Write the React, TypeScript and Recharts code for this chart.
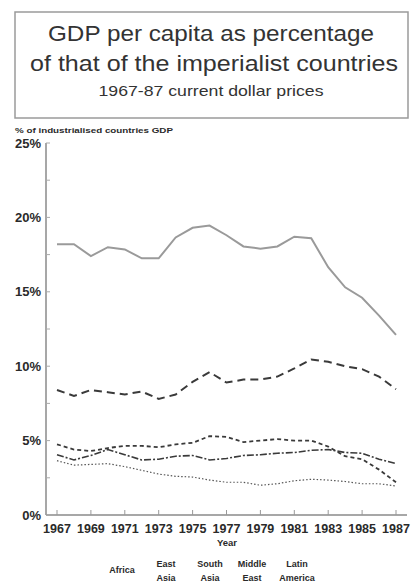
import React from "react";
import { LineChart, Line, XAxis, YAxis } from "recharts";

const years = [1967, 1968, 1969, 1970, 1971, 1972, 1973, 1974, 1975, 1976, 1977, 1978, 1979, 1980, 1981, 1982, 1983, 1984, 1985, 1986, 1987];
const middleEast = [18.2, 18.2, 17.4, 18.0, 17.85, 17.25, 17.25, 18.65, 19.3, 19.45, 18.8, 18.05, 17.9, 18.05, 18.7, 18.6, 16.65, 15.3, 14.6, 13.4, 12.1];
const latinAmerica = [8.4, 8.0, 8.4, 8.25, 8.1, 8.3, 7.8, 8.1, 8.95, 9.6, 8.9, 9.1, 9.1, 9.3, 9.85, 10.45, 10.3, 10.0, 9.8, 9.3, 8.45];
const africa = [4.75, 4.4, 4.3, 4.5, 4.65, 4.65, 4.55, 4.75, 4.85, 5.3, 5.25, 4.9, 5.0, 5.1, 5.0, 5.0, 4.6, 3.95, 3.75, 3.05, 2.2];
const eastAsia = [4.05, 3.7, 4.0, 4.4, 4.05, 3.7, 3.75, 3.95, 4.0, 3.7, 3.8, 4.0, 4.05, 4.15, 4.2, 4.35, 4.4, 4.2, 4.15, 3.75, 3.45];
const southAsia = [3.65, 3.35, 3.4, 3.45, 3.25, 3.0, 2.75, 2.6, 2.55, 2.35, 2.2, 2.2, 2.0, 2.1, 2.3, 2.4, 2.35, 2.25, 2.1, 2.1, 1.95];

const yTicks = [0, 2.5, 5, 7.5, 10, 12.5, 15, 17.5, 20, 22.5, 25];
const xTickLabels = [1967, 1969, 1971, 1973, 1975, 1977, 1979, 1981, 1983, 1985, 1987];
const legendItems = [
  { lines: ["Africa"], x: 122 },
  { lines: ["East", "Asia"], x: 166 },
  { lines: ["South", "Asia"], x: 210 },
  { lines: ["Middle", "East"], x: 252 },
  { lines: ["Latin", "America"], x: 297 },
];

const data = years.map((y, i) => ({
  year: y,
  middleEast: middleEast[i],
  latinAmerica: latinAmerica[i],
  africa: africa[i],
  eastAsia: eastAsia[i],
  southAsia: southAsia[i],
}));

const FONT = "'Liberation Sans', Arial, Helvetica, sans-serif";
const TEXT = "#2a2a2a";

const XTick = (props: any) => {
  const { x, y, payload } = props;
  const isLabel = xTickLabels.includes(payload.value);
  if (!isLabel) return null;
  return (
    <g>
      <line x1={x} x2={x} y1={y} y2={y - 5} stroke="#999" strokeWidth={1} />
      <text x={x} y={y + 18} textAnchor="middle" fontFamily={FONT} fontWeight="bold" fontSize={12.5} fill={TEXT}>
        {payload.value}
      </text>
    </g>
  );
};

const YTick = (props: any) => {
  const { x, y, payload } = props;
  const v = payload.value;
  const isMajor = v % 5 === 0;
  return (
    <g>
      <line x1={x} x2={x + 4} y1={y} y2={y} stroke="#aaa" strokeWidth={1} />
      {isMajor && (
        <text x={x - 5} y={y + 4.5} textAnchor="end" fontFamily={FONT} fontWeight="bold" fontSize={13} fill={TEXT}>
          {v + "%"}
        </text>
      )}
    </g>
  );
};

export default function App() {
  return (
    <div style={{ position: "absolute", left: 0, top: 0, width: 411, height: 583, background: "#fff" }}>
      <LineChart
        width={411}
        height={583}
        data={data}
        margin={{ top: 143, right: 4, bottom: 48, left: 8 }}
      >
        <XAxis
          dataKey="year"
          interval={0}
          padding={{ left: 11, right: 11 }}
          tickLine={false}
          tickSize={0}
          tickMargin={0}
          tick={<XTick />}
          axisLine={{ stroke: "#8a8a8a", strokeWidth: 1.5 }}
          height={20}
        />
        <XAxis xAxisId="top" orientation="top" dataKey="year" height={0} tick={false} tickLine={false} axisLine={{ stroke: "#b0b0b0", strokeWidth: 1.5 }} />
        <YAxis
          domain={[0, 25]}
          ticks={yTicks}
          interval={0}
          tickLine={false}
          tickSize={0}
          tickMargin={0}
          tick={<YTick />}
          axisLine={{ stroke: "#8a8a8a", strokeWidth: 1.5 }}
          width={38}
        />
        <YAxis yAxisId="right" orientation="right" domain={[0, 25]} width={0} tick={false} tickLine={false} axisLine={{ stroke: "#b0b0b0", strokeWidth: 1.5 }} />
        <Line type="linear" dataKey="middleEast" stroke="#9a9a9a" strokeWidth={2} dot={false} isAnimationActive={false} />
        <Line type="linear" dataKey="latinAmerica" stroke="#3a3a3a" strokeWidth={2} strokeDasharray="8 5" dot={false} isAnimationActive={false} />
        <Line type="linear" dataKey="africa" stroke="#3a3a3a" strokeWidth={1.8} strokeDasharray="4 3" dot={false} isAnimationActive={false} />
        <Line type="linear" dataKey="eastAsia" stroke="#3a3a3a" strokeWidth={1.6} strokeDasharray="7 2 2 2" dot={false} isAnimationActive={false} />
        <Line type="linear" dataKey="southAsia" stroke="#555" strokeWidth={1.2} strokeDasharray="1.5 2" dot={false} isAnimationActive={false} />
      </LineChart>
      <svg width={411} height={583} style={{ position: "absolute", left: 0, top: 0, pointerEvents: "none" }}>
        <rect x={15} y={12} width={393} height={106} fill="none" stroke="#9a9a9a" strokeWidth={1.5} />
        <text x={211} y={41} textAnchor="middle" fontFamily={FONT} fontSize={22} fill="#333" textLength={326} lengthAdjust="spacingAndGlyphs">
          GDP per capita as percentage
        </text>
        <text x={214} y={71} textAnchor="middle" fontFamily={FONT} fontSize={22} fill="#333" textLength={368} lengthAdjust="spacingAndGlyphs">
          of that of the imperialist countries
        </text>
        <text x={211} y={96} textAnchor="middle" fontFamily={FONT} fontSize={15} fill="#333" textLength={225} lengthAdjust="spacingAndGlyphs">
          1967-87 current dollar prices
        </text>
        <text x={15} y={133} fontFamily={FONT} fontWeight="bold" fontSize={8} fill={TEXT} textLength={158} lengthAdjust="spacingAndGlyphs">
          % of industrialised countries GDP
        </text>
        <text x={227} y={546} textAnchor="middle" fontFamily={FONT} fontWeight="bold" fontSize={9.5} fill={TEXT}>
          Year
        </text>
        {legendItems.map((it) =>
          it.lines.length === 1 ? (
            <text key={it.x} x={it.x} y={573} textAnchor="middle" fontFamily={FONT} fontWeight="bold" fontSize={9} fill={TEXT}>
              {it.lines[0]}
            </text>
          ) : (
            <text key={it.x} x={it.x} textAnchor="middle" fontFamily={FONT} fontWeight="bold" fontSize={9} fill={TEXT}>
              <tspan x={it.x} y={567}>{it.lines[0]}</tspan>
              <tspan x={it.x} y={581}>{it.lines[1]}</tspan>
            </text>
          )
        )}
      </svg>
    </div>
  );
}
